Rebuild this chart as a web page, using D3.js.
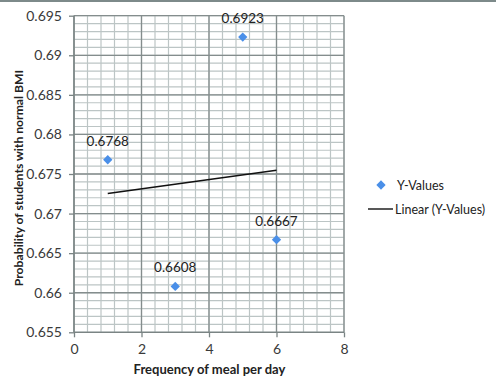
<!DOCTYPE html>
<html><head><meta charset="utf-8">
<script src="https://cdn.jsdelivr.net/npm/d3@7"></script>
<style>body{margin:0;background:#fff}svg{display:block}</style>
</head><body>
<svg id="c" width="496" height="386"></svg>
<script>
const xValues = [1, 3, 5, 6];
const yValues = [0.6768, 0.6608, 0.6923, 0.6667];
const pointLabels = ["0.6768", "0.6608", "0.6923", "0.6667"];
const xTicks = [0, 2, 4, 6, 8];
const yTicks = [0.655, 0.66, 0.665, 0.67, 0.675, 0.68, 0.685, 0.69, 0.695];
const seriesName = "Y-Values";
const trendName = "Linear (Y-Values)";
const xTitle = "Frequency of meal per day";
const yTitle = "Probability of students with normal BMI";

const svg = d3.select("#c");
const font = "Lato, 'Open Sans', sans-serif";
const L = 74, R = 344, T = 15.7, B = 332.3;
const x = d3.scaleLinear().domain([0, 8]).range([L, R]);
const y = d3.scaleLinear().domain([0.655, 0.695]).range([B, T]);

// top border
svg.append("rect").attr("x", 0).attr("y", 0).attr("width", 496).attr("height", 2).attr("fill", "#7d8a8a");

// minor grid
const xMinor = d3.range(0, 8.0001, 0.4);
const yMinor = d3.range(0.655, 0.69501, 0.001);
const g = svg.append("g");
g.selectAll(".xm").data(xMinor).join("line")
  .attr("x1", d => x(d)).attr("x2", d => x(d)).attr("y1", T).attr("y2", B)
  .attr("stroke", "#bcc5c5").attr("stroke-width", 1.2);
g.selectAll(".ym").data(yMinor).join("line")
  .attr("x1", L).attr("x2", R).attr("y1", d => y(d)).attr("y2", d => y(d))
  .attr("stroke", "#bcc5c5").attr("stroke-width", 1.2);
// major grid
g.selectAll(".xM").data(xTicks).join("line")
  .attr("x1", d => x(d)).attr("x2", d => x(d)).attr("y1", T).attr("y2", B)
  .attr("stroke", "#848d8d").attr("stroke-width", 1.3);
g.selectAll(".yM").data(yTicks).join("line")
  .attr("x1", L).attr("x2", R).attr("y1", d => y(d)).attr("y2", d => y(d))
  .attr("stroke", "#848d8d").attr("stroke-width", 1.3);

// axes
const xAxis = d3.axisBottom(x).tickValues(xTicks).tickSize(5).tickPadding(7).tickFormat(d3.format("d"));
const yAxis = d3.axisLeft(y).tickValues(yTicks).tickSize(5).tickPadding(7).tickFormat(d => d3.format("")(+d.toFixed(3)));
const gx = svg.append("g").attr("transform", `translate(0,${B})`).call(xAxis);
const gy = svg.append("g").attr("transform", `translate(${L},0)`).call(yAxis);
[gx, gy].forEach(a => {
  a.attr("font-size", 14).attr("font-family", font);
  a.select(".domain").attr("stroke", "#7a8484").attr("stroke-width", 1.3);
  a.selectAll(".tick line").attr("stroke", "#7a8484").attr("stroke-width", 1.3);
  a.selectAll("text").attr("font-family", font).attr("font-size", 14).attr("fill", "#3a3a3a");
});
gy.select(".domain").attr("d", `M0,${T}V${B}`);
gx.select(".domain").attr("d", `M${L},0H${R}`);

// trend line (least squares)
const mx = d3.mean(xValues), my = d3.mean(yValues);
const slope = d3.sum(xValues, (v, i) => (v - mx) * (yValues[i] - my)) / d3.sum(xValues, v => (v - mx) ** 2);
const icpt = my - slope * mx;
const x0 = d3.min(xValues), x1 = d3.max(xValues);
svg.append("line")
  .attr("x1", x(x0)).attr("y1", y(icpt + slope * x0))
  .attr("x2", x(x1)).attr("y2", y(icpt + slope * x1))
  .attr("stroke", "#111").attr("stroke-width", 1.4);

// points
const diamond = d3.symbol().type(d3.symbolDiamond2).size(55);
svg.selectAll(".pt").data(xValues).join("path")
  .attr("d", diamond)
  .attr("transform", (d, i) => `translate(${x(d)},${y(yValues[i])})`)
  .attr("fill", "#4a8fe8");
svg.selectAll(".lbl").data(xValues).join("text")
  .attr("x", d => x(d)).attr("y", (d, i) => y(yValues[i]) - 14)
  .attr("text-anchor", "middle").attr("font-family", font).attr("font-size", 13.5).attr("fill", "#222")
  .text((d, i) => pointLabels[i]);

// axis titles
svg.append("text").attr("x", 209.5).attr("y", 374).attr("text-anchor", "middle")
  .attr("font-family", font).attr("font-weight", "bold").attr("font-size", 13).attr("fill", "#222").text(xTitle);
svg.append("text").attr("transform", "translate(23,178) rotate(-90)").attr("text-anchor", "middle")
  .attr("font-family", font).attr("font-weight", "bold").attr("font-size", 12.2).attr("fill", "#222").text(yTitle);

// legend
svg.append("path").attr("d", diamond).attr("transform", "translate(381,185)").attr("fill", "#4a8fe8");
svg.append("text").attr("x", 397).attr("y", 189.5).attr("font-family", font).attr("font-size", 12.5).attr("fill", "#222").text(seriesName);
svg.append("line").attr("x1", 368).attr("x2", 393).attr("y1", 209).attr("y2", 209).attr("stroke", "#111").attr("stroke-width", 1.4);
svg.append("text").attr("x", 395).attr("y", 213.5).attr("font-family", font).attr("font-size", 12.5).attr("fill", "#222").text(trendName);
</script>
</body></html>
